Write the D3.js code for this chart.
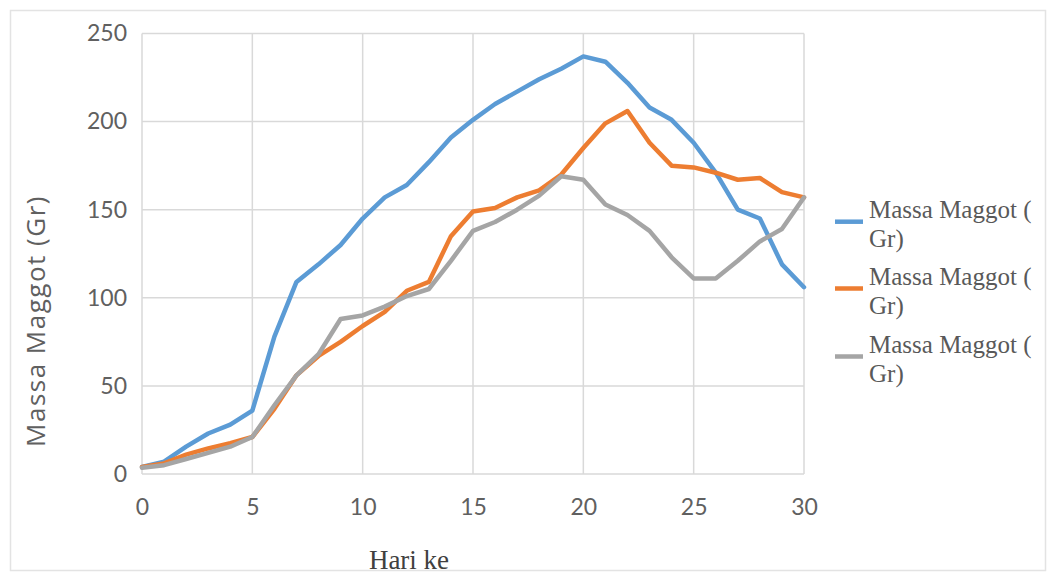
<!DOCTYPE html>
<html><head><meta charset="utf-8">
<script src="https://cdn.jsdelivr.net/npm/d3@7"></script>
<style>html,body{margin:0;padding:0;background:#fff;}svg{display:block;}</style>
</head><body>
<svg id="c" width="1052" height="574"></svg>
<script>
const days = d3.range(0, 31);
const seriesNames = ["Massa Maggot ( Gr)", "Massa Maggot ( Gr)", "Massa Maggot ( Gr)"];
const blue   = [4,7,15.5,23,28,36,78,109,119,130,145,157,164,177,191,201,210,217,224,230,237,234,222,208,201,188,171,150,145,119,106];
const orange = [4,6,11,14.5,17.5,21,37,56,67,75,84,92,104,109,135,149,151,157,161,170,185,199,206,188,175,174,171,167,168,160,157];
const gray   = [3.5,5,8.5,12,15.5,21,39,56,68,88,90,95,101,105,121,138,143,150,158,169,167,153,147,138,123,111,111,121,132,139,157];
const xTicks = [0,5,10,15,20,25,30];
const yTicks = [0,50,100,150,200,250];
const colors = ["#5B9BD5","#ED7D31","#A5A5A5"];
const series = [blue, orange, gray];

const svg = d3.select("#c");
const x = d3.scaleLinear().domain([0,30]).range([142,804]);
const y = d3.scaleLinear().domain([0,250]).range([474,33.5]);

// outer frame
svg.append("rect").attr("x",10.5).attr("y",10.5).attr("width",1035).attr("height",560)
  .attr("fill","#fff").attr("stroke","#e3e3e3").attr("stroke-width",1.5);

// gridlines
const grid = svg.append("g");
grid.selectAll("line.h").data(yTicks).join("line")
  .attr("x1",x(0)).attr("x2",x(30)).attr("y1",d=>y(d)).attr("y2",d=>y(d))
  .attr("stroke","#d9d9d9").attr("stroke-width",1.5);
grid.selectAll("line.v").data(xTicks).join("line")
  .attr("y1",y(0)).attr("y2",y(250)).attr("x1",d=>x(d)).attr("x2",d=>x(d))
  .attr("stroke","#d9d9d9").attr("stroke-width",1.5);

const yAxis = svg.append("g").attr("transform",`translate(${x(0)},0)`)
  .call(d3.axisLeft(y).tickValues(yTicks).tickSize(0).tickPadding(15));
yAxis.select(".domain").remove();
yAxis.selectAll("text").attr("font-family","Lato, 'Open Sans', sans-serif").attr("font-size",23).attr("fill","#606060");

const xAxis = svg.append("g").attr("transform",`translate(0,${y(0)})`)
  .call(d3.axisBottom(x).tickValues(xTicks).tickSize(0).tickPadding(25));
xAxis.select(".domain").remove();
xAxis.selectAll("text").attr("font-family","Lato, 'Open Sans', sans-serif").attr("font-size",23).attr("fill","#606060");

// lines
const line = d3.line().x((d,i)=>x(days[i])).y(d=>y(d));
svg.append("g").selectAll("path").data(series).join("path")
  .attr("d",line).attr("fill","none")
  .attr("stroke",(d,i)=>colors[i]).attr("stroke-width",4.5)
  .attr("stroke-linejoin","round").attr("stroke-linecap","round");

// y title
svg.append("text").attr("transform",`translate(45,321) rotate(-90)`)
  .attr("text-anchor","middle").attr("font-family","'Open Sans', sans-serif")
  .attr("font-size",26).attr("letter-spacing",1.5).attr("fill","#606060").text("Massa Maggot (Gr)");

// x title
svg.append("text")
  .attr("x",409).attr("y",569).attr("text-anchor","middle")
  .attr("font-family","'Liberation Serif', serif").attr("font-size",27).attr("fill","#404040").text("Hari ke");

// legend
const leg = svg.append("g");
const itemY = [221.7, 288.5, 356.5];
seriesNames.forEach((name,i)=>{
  const g = leg.append("g").attr("transform",`translate(0,${itemY[i]})`);
  g.append("line").attr("x1",835).attr("x2",863).attr("y1",0).attr("y2",0)
    .attr("stroke",colors[i]).attr("stroke-width",4.5);
  const parts = name.split(" Gr)");
  const t = g.append("text").attr("font-family","'Liberation Serif', serif").attr("font-size",25).attr("fill","#595959");
  t.append("tspan").attr("x",869).attr("y",-4).text(parts[0]);
  t.append("tspan").attr("x",869).attr("y",25).text("Gr)");
});
</script>
</body></html>
